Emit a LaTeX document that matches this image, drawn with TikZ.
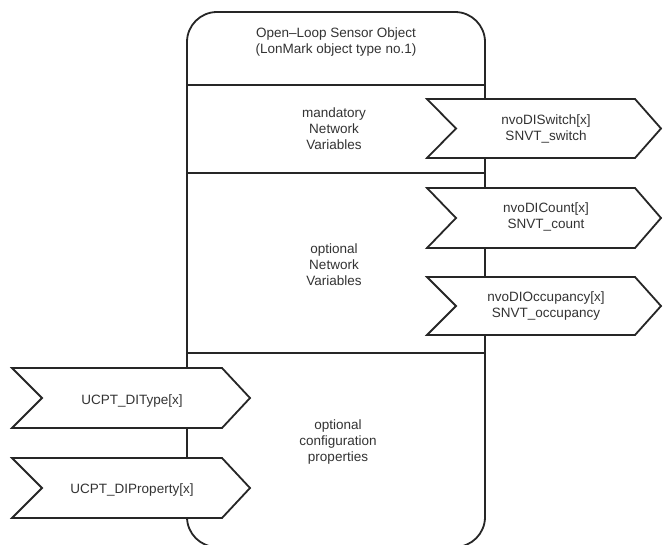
\documentclass[tikz,border=0pt]{standalone}
\usepackage{fontspec}
\setmainfont{Liberation Sans}
\begin{document}
\begin{tikzpicture}[x=1pt,y=-1pt,
  edge/.style={line width=1.8pt,draw=black!85},
  chev/.style={line width=1.8pt,draw=black!85,fill=white,line join=miter},
  lbl/.style={align=center,font=\fontsize{13.5}{16}\selectfont,inner sep=0pt,text=black!80}]
\useasboundingbox (0,0) rectangle (663,544);
\clip (0,0) rectangle (663,544);
\fill[white] (0,0) rectangle (663,544);
% main object box
\draw[edge,rounded corners=30pt] (187,12) -- (485,12) -- (485,547) -- (187,547) -- cycle;
\coordinate (d1l) at (187,85); \coordinate (d1r) at (485,85);
\coordinate (d2l) at (187,173); \coordinate (d2r) at (485,173);
\coordinate (d3l) at (187,353); \coordinate (d3r) at (485,353);
\draw[edge] (d1l) -- (d1r);
\draw[edge] (d2l) -- (d2r);
\draw[edge] (d3l) -- (d3r);
\node[lbl] (title) at (336,42) {Open--Loop Sensor Object\\(LonMark object type no.1)};
\node[lbl] (mand) at (334,129) {mandatory\\Network\\Variables};
\node[lbl] (opt) at (334,265) {optional\\Network\\Variables};
\node[lbl] (cfg) at (338,442) {optional\\configuration\\properties};
% right chevrons
\draw[chev] (427,99) -- (635,99) -- (661,128.5) -- (635,158) -- (427,158) -- (456,128.5) -- cycle;
\node[lbl] (sw) at (546,129) {nvoDISwitch[x]\\SNVT\_switch};
\draw[chev] (427,188) -- (635,188) -- (661,218) -- (635,248) -- (427,248) -- (456,218) -- cycle;
\node[lbl] (cnt) at (546,217) {nvoDICount[x]\\SNVT\_count};
\draw[chev] (427,277) -- (635,277) -- (661,306) -- (635,335) -- (427,335) -- (456,306) -- cycle;
\node[lbl] (occ) at (546,306) {nvoDIOccupancy[x]\\SNVT\_occupancy};
% left chevrons
\draw[chev] (12,368) -- (222,368) -- (250,398) -- (222,428) -- (12,428) -- (42,398) -- cycle;
\node[lbl] (typ) at (132,401) {UCPT\_DIType[x]};
\draw[chev] (12,458) -- (222,458) -- (250,488) -- (222,518) -- (12,518) -- (42,488) -- cycle;
\node[lbl] (prop) at (132,490) {UCPT\_DIProperty[x]};
\end{tikzpicture}
\end{document}
